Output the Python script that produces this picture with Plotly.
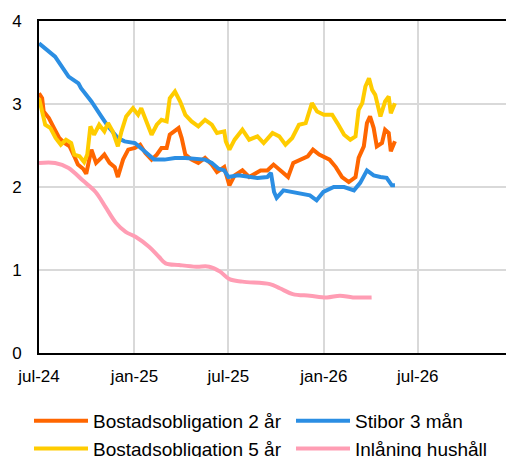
import plotly.graph_objects as go

# ---- data -------------------------------------------------------------
stibor_dates = ["2024-07-01","2024-07-10","2024-08-01","2024-08-27","2024-09-15","2024-09-20","2024-10-10",
                "2024-10-29","2024-11-11","2024-11-30","2024-12-13","2025-01-02","2025-01-14","2025-01-27",
                "2025-02-08","2025-02-28","2025-03-20","2025-04-09","2025-04-28","2025-05-17","2025-05-30",
                "2025-06-12","2025-06-23","2025-07-01","2025-07-20","2025-08-08","2025-08-26","2025-09-14",
                "2025-09-21","2025-09-27","2025-10-02","2025-10-15","2025-11-10","2025-12-05","2025-12-18",
                "2025-12-31","2026-01-20","2026-02-09","2026-02-28","2026-03-12","2026-03-25","2026-04-07",
                "2026-04-20","2026-05-02","2026-05-12","2026-05-18"]
stibor_vals = [3.73,3.68,3.57,3.33,3.25,3.19,3.03,
               2.85,2.73,2.59,2.55,2.53,2.47,2.39,
               2.33,2.33,2.35,2.35,2.34,2.33,2.29,
               2.22,2.20,2.12,2.14,2.12,2.11,2.12,
               2.17,1.94,1.87,1.96,1.93,1.90,1.84,
               1.94,2.00,2.00,1.96,2.05,2.20,2.14,
               2.12,2.11,2.02,2.02]

bo2_dates = ["2024-07-01","2024-07-07","2024-07-10","2024-07-20","2024-07-30","2024-08-09","2024-08-19",
             "2024-08-29","2024-09-07","2024-09-14","2024-09-24","2024-09-30","2024-10-10","2024-10-19",
             "2024-10-29","2024-11-04","2024-11-14","2024-11-24","2024-11-30","2024-12-10","2024-12-20",
             "2025-01-02","2025-01-12","2025-01-22","2025-02-03","2025-02-13","2025-02-22","2025-03-04",
             "2025-03-10","2025-03-20","2025-03-27","2025-04-02","2025-04-09","2025-04-21","2025-05-04",
             "2025-05-17","2025-05-30","2025-06-09","2025-06-23","2025-06-26","2025-07-03","2025-07-13",
             "2025-07-28","2025-08-10","2025-09-01","2025-09-14","2025-09-26","2025-10-15","2025-10-24",
             "2025-11-03","2025-11-19","2025-12-01","2025-12-11","2025-12-23","2026-01-12","2026-01-24",
             "2026-02-05","2026-02-18","2026-03-03","2026-03-09","2026-03-19","2026-03-25","2026-03-31",
             "2026-04-07","2026-04-13","2026-04-23","2026-04-29","2026-05-06","2026-05-10","2026-05-18"]
bo2_vals = [3.13,3.07,2.91,2.83,2.71,2.59,2.53,
            2.49,2.37,2.27,2.22,2.16,2.45,2.29,
            2.35,2.39,2.29,2.24,2.12,2.33,2.45,
            2.47,2.51,2.41,2.33,2.39,2.47,2.47,
            2.63,2.67,2.71,2.59,2.39,2.33,2.29,
            2.35,2.27,2.18,2.24,2.17,2.02,2.14,
            2.20,2.12,2.20,2.20,2.27,2.17,2.12,
            2.29,2.33,2.37,2.45,2.39,2.33,2.24,
            2.12,2.06,2.12,2.35,2.49,2.77,2.85,
            2.71,2.49,2.53,2.69,2.65,2.43,2.55]

bo5_dates = ["2024-07-01","2024-07-07","2024-07-13","2024-07-23","2024-08-02","2024-08-12","2024-08-22",
             "2024-09-01","2024-09-07","2024-09-17","2024-09-26","2024-10-02","2024-10-08","2024-10-15",
             "2024-10-25","2024-11-04","2024-11-11","2024-11-20","2024-11-30","2024-12-07","2024-12-16",
             "2024-12-29","2025-01-08","2025-01-14","2025-01-24","2025-02-03","2025-02-13","2025-02-22",
             "2025-03-04","2025-03-10","2025-03-20","2025-03-30","2025-04-09","2025-04-21","2025-05-04",
             "2025-05-17","2025-05-30","2025-06-09","2025-06-23","2025-06-26","2025-07-03","2025-07-13",
             "2025-07-28","2025-08-10","2025-08-26","2025-09-07","2025-09-24","2025-10-07","2025-10-19",
             "2025-11-01","2025-11-14","2025-11-27","2025-12-09","2025-12-19","2026-01-01","2026-01-17",
             "2026-01-27","2026-02-09","2026-02-21","2026-03-03","2026-03-09","2026-03-16","2026-03-22",
             "2026-03-29","2026-04-04","2026-04-10","2026-04-20","2026-04-29","2026-05-06","2026-05-10",
             "2026-05-18"]
bo5_vals = [3.07,2.91,2.75,2.71,2.59,2.51,2.57,
            2.53,2.39,2.37,2.30,2.39,2.73,2.63,
            2.75,2.67,2.77,2.67,2.49,2.67,2.85,
            2.95,2.87,2.95,2.79,2.63,2.75,2.81,
            2.79,3.07,3.15,3.03,2.87,2.79,2.73,
            2.81,2.75,2.65,2.67,2.55,2.45,2.57,
            2.69,2.57,2.61,2.53,2.65,2.61,2.51,
            2.59,2.75,2.77,3.01,2.91,2.87,2.87,
            2.77,2.63,2.57,2.61,2.93,3.01,3.21,
            3.31,3.17,3.11,2.85,3.03,3.09,2.89,
            3.01]

inl_dates = ["2024-07-01","2024-08-01","2024-08-27","2024-09-23","2024-10-18","2024-11-06","2024-11-26",
             "2024-12-15","2025-01-03","2025-01-29","2025-02-17","2025-03-02","2025-03-28","2025-04-30",
             "2025-05-25","2025-06-15","2025-07-03","2025-07-28","2025-09-19","2025-10-08","2025-11-02",
             "2025-12-05","2026-01-07","2026-02-01","2026-02-26","2026-04-03"]
inl_vals = [2.29,2.29,2.23,2.08,1.94,1.76,1.57,
            1.46,1.40,1.28,1.16,1.08,1.06,1.04,
            1.04,0.98,0.89,0.86,0.83,0.78,0.71,
            0.69,0.67,0.69,0.67,0.67]

tick_dates = ["2024-07-01","2025-01-01","2025-07-01","2026-01-01","2026-07-01","2027-01-01"]
tick_labels = ["jul-24","jan-25","jul-25","jan-26","jul-26","jan-27"]

names = ["Bostadsobligation 2 år", "Stibor 3 mån", "Bostadsobligation 5 år", "Inlåning hushåll"]
colors = ["#FF6600", "#2B8EE3", "#FFCC00", "#FF9DB4"]
legend_ids = ["legend", "legend2", "legend", "legend2"]

FONT = "Arial, Liberation Sans, sans-serif"

fig = go.Figure()
series = [(bo2_dates, bo2_vals, "linear"), (stibor_dates, stibor_vals, "linear"),
          (bo5_dates, bo5_vals, "linear"), (inl_dates, inl_vals, "spline")]
for (d, v, shp), n, c, lg in zip(series, names, colors, legend_ids):
    fig.add_trace(go.Scatter(x=d, y=v, mode="lines", name=n, legend=lg, legendgroup=n,
                             line=dict(color=c, width=4, shape=shp)))

leg_common = dict(orientation="v", xref="container", yref="container",
                  xanchor="left", yanchor="top", itemwidth=54,
                  font=dict(size=19), tracegroupgap=2, traceorder="normal",
                  bgcolor="rgba(0,0,0,0)")

fig.update_layout(
    width=506, height=457,
    margin=dict(l=39, r=0, t=21, b=104, autoexpand=False),
    paper_bgcolor="white", plot_bgcolor="white",
    font=dict(family=FONT, size=17, color="black"),
    showlegend=True,
    legend=dict(x=29 / 506, y=(457 - 402) / 457, **leg_common),
    legend2=dict(x=291 / 506, y=(457 - 402) / 457, **leg_common),
)
fig.update_xaxes(type="date", range=["2024-07-01", "2026-12-18"], automargin=False,
                 tickvals=tick_dates, ticktext=tick_labels,
                 showgrid=True, gridcolor="#D9D9D9", gridwidth=1.5,
                 showline=True, linecolor="black", linewidth=2, mirror=True,
                 ticks="", ticklabelstandoff=7, zeroline=False,
                 tickfont=dict(size=17))
fig.update_yaxes(range=[0, 4], dtick=1, tickvals=[0, 1, 2, 3, 4], automargin=False,
                 showgrid=True, gridcolor="#D9D9D9", gridwidth=1.5,
                 showline=True, linecolor="black", linewidth=2,
                 ticks="", ticklabelstandoff=12, zeroline=False,
                 tickfont=dict(size=17))

fig.write_html("out.html", config={"displayModeBar": False},
               post_script="document.body.style.margin='0';document.body.style.padding='0';")
